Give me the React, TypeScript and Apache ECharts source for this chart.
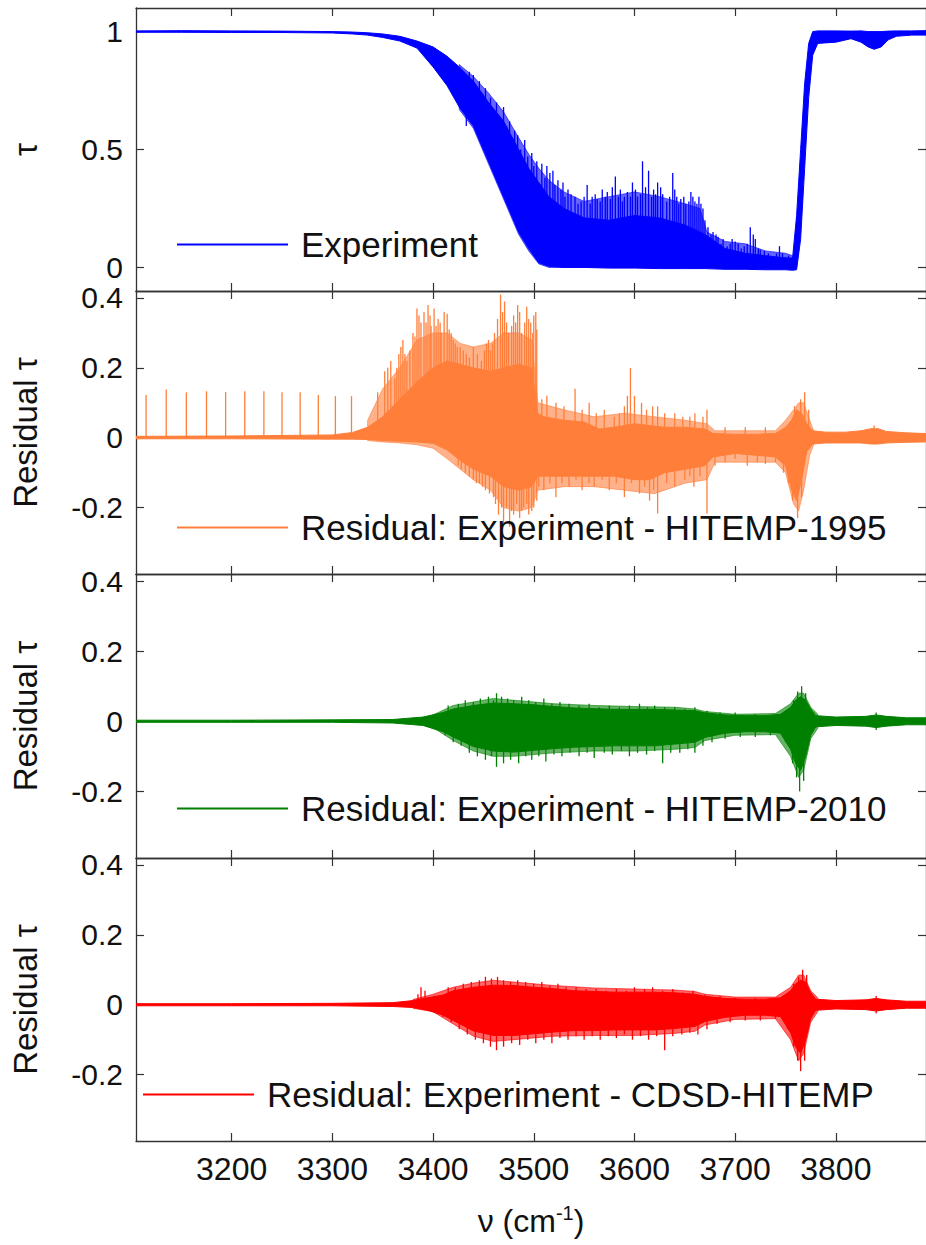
import React, { useEffect, useRef } from "react";
import * as echarts from "echarts";

// Wavenumber axis (cm-1)
const NU_MIN = 3105;
const NU_MAX = 3889.5;
const NU_TICKS = [3200, 3300, 3400, 3500, 3600, 3700, 3800];
const TAU_TICKS = [0, 0.5, 1];
const RES_TICKS = [-0.2, 0, 0.2, 0.4];

const SERIES_NAMES = [
  "Experiment",
  "Residual: Experiment - HITEMP-1995",
  "Residual: Experiment - HITEMP-2010",
  "Residual: Experiment - CDSD-HITEMP",
];
const SERIES_COLORS = ["#0000ff", "#ff7f3a", "#008000", "#ff0000"];

// Measured transmittance: solid band rows [nu, lower edge, upper edge]
const expBand = [
  [3105, 0.997, 1.003], [3150, 0.997, 1.004], [3200, 0.996, 1.003], [3250, 0.996, 1.002],
  [3300, 0.994, 1.0], [3320, 0.99, 0.998], [3335, 0.985, 0.995], [3350, 0.975, 0.99],
  [3367, 0.96, 0.98], [3384, 0.93, 0.96], [3400, 0.85, 0.935], [3414, 0.77, 0.895],
  [3426, 0.68, 0.85], [3440, 0.6, 0.79], [3455, 0.45, 0.7], [3470, 0.3, 0.62],
  [3485, 0.15, 0.5], [3495, 0.08, 0.42], [3505, 0.02, 0.36], [3515, 0.005, 0.3],
  [3530, 0.0, 0.25], [3550, 0.0, 0.21], [3575, -0.003, 0.2], [3600, -0.003, 0.22],
  [3625, -0.005, 0.21], [3650, -0.005, 0.18], [3670, -0.005, 0.14], [3690, -0.008, 0.08],
  [3710, -0.008, 0.06], [3730, -0.01, 0.05], [3750, -0.01, 0.04], [3757, -0.012, 0.04],
  [3761, -0.01, 0.22], [3765, 0.12, 0.5], [3769, 0.42, 0.78], [3773, 0.72, 0.95],
  [3777, 0.9, 1.0], [3782, 0.95, 1.003], [3800, 0.955, 1.003], [3815, 0.97, 1.002],
  [3825, 0.955, 1.003], [3832, 0.935, 1.0], [3838, 0.925, 1.0], [3845, 0.935, 1.0],
  [3852, 0.965, 1.002], [3860, 0.98, 1.003], [3875, 0.985, 1.003], [3889.5, 0.985, 1.004],
];
// Envelope of the densely packed line structure around the solid band
const expFringe = [
  [3426, 0.67, 0.86], [3440, 0.59, 0.81], [3455, 0.44, 0.74], [3470, 0.29, 0.66],
  [3485, 0.14, 0.55], [3495, 0.07, 0.48], [3505, 0.015, 0.42], [3515, 0.0, 0.37],
  [3530, 0.0, 0.32], [3550, 0.0, 0.28], [3575, 0.0, 0.3], [3600, 0.0, 0.32],
  [3625, 0.0, 0.3], [3650, 0.0, 0.27], [3665, 0.0, 0.25], [3672, 0.0, 0.15],
  [3690, 0.0, 0.11], [3710, 0.0, 0.1], [3730, 0.0, 0.07], [3750, 0.0, 0.06], [3757, 0.0, 0.05],
];
// Individual absorption-line peaks of the measurement: [nu, from, to]
const expSpikes = [
  [3433, 0.6, 0.8], [3436, 0.7, 0.83], [3440, 0.68, 0.816], [3443, 0.6, 0.77],
  [3446, 0.65, 0.79], [3449, 0.55, 0.74], [3452, 0.6, 0.76], [3457, 0.55, 0.72],
  [3460, 0.45, 0.66], [3463, 0.5, 0.7], [3466, 0.4, 0.64], [3470, 0.45, 0.68],
  [3473, 0.35, 0.6], [3476, 0.4, 0.62], [3479, 0.3, 0.55], [3481, 0.35, 0.58],
  [3484, 0.3, 0.56], [3487, 0.2, 0.5], [3491, 0.25, 0.54], [3494, 0.15, 0.47],
  [3498, 0.2, 0.485], [3500, 0.1, 0.43], [3503, 0.15, 0.45], [3508, 0.1, 0.44],
  [3511, 0.1, 0.38], [3513, 0.1, 0.43], [3516, 0.1, 0.4], [3519, 0.1, 0.41],
  [3521, 0.1, 0.35], [3524, 0.1, 0.37], [3527, 0.1, 0.33], [3529, 0.1, 0.36],
  [3531, 0.1, 0.3], [3534, 0.1, 0.33], [3537, 0.1, 0.31], [3541, 0.1, 0.3],
  [3544, 0.1, 0.27], [3547, 0.1, 0.28], [3550, 0.1, 0.3], [3553, 0.1, 0.35],
  [3556, 0.1, 0.27], [3558, 0.1, 0.3], [3561, 0.1, 0.31], [3563, 0.1, 0.29],
  [3566, 0.1, 0.28], [3568, 0.1, 0.33], [3571, 0.1, 0.3], [3573, 0.1, 0.32],
  [3576, 0.1, 0.29], [3578, 0.1, 0.34], [3581, 0.1, 0.385], [3584, 0.1, 0.3],
  [3586, 0.1, 0.33], [3588, 0.1, 0.28], [3590, 0.1, 0.3], [3593, 0.1, 0.32],
  [3596, 0.1, 0.3], [3598, 0.1, 0.36], [3601, 0.1, 0.33], [3603, 0.1, 0.3],
  [3606, 0.1, 0.31], [3608, 0.1, 0.45], [3611, 0.1, 0.34], [3614, 0.1, 0.41],
  [3617, 0.1, 0.3], [3619, 0.1, 0.33], [3621, 0.1, 0.31], [3623, 0.1, 0.36],
  [3626, 0.1, 0.34], [3628, 0.1, 0.31], [3632, 0.1, 0.28], [3635, 0.1, 0.3],
  [3638, 0.1, 0.4], [3640, 0.1, 0.33], [3642, 0.1, 0.3], [3644, 0.1, 0.27],
  [3646, 0.1, 0.29], [3649, 0.1, 0.3], [3651, 0.1, 0.27], [3654, 0.1, 0.28],
  [3656, 0.1, 0.32], [3658, 0.1, 0.3], [3660, 0.1, 0.28], [3662, 0.1, 0.27],
  [3664, 0.1, 0.3], [3666, 0.05, 0.27], [3668, 0.05, 0.25], [3670, 0.05, 0.2],
  [3673, 0.05, 0.17], [3676, 0.05, 0.14], [3678, 0.05, 0.15], [3681, 0.03, 0.14],
  [3683, 0.03, 0.13], [3686, 0.03, 0.1], [3688, 0.03, 0.12], [3692, 0.03, 0.09],
  [3695, 0.03, 0.1], [3697, 0.03, 0.12], [3700, 0.03, 0.11], [3703, 0.03, 0.1],
  [3706, 0.02, 0.08], [3709, 0.03, 0.09], [3712, 0.02, 0.1], [3715, 0.03, 0.17],
  [3718, 0.02, 0.14], [3720, 0.03, 0.12], [3723, 0.02, 0.08], [3725, 0.02, 0.075],
  [3729, 0.02, 0.07], [3733, 0.02, 0.06], [3738, 0.02, 0.045], [3741, 0.02, 0.06],
  [3744, 0.02, 0.09], [3747, 0.02, 0.06], [3750, 0.02, 0.045], [3753, 0.02, 0.05],
];

// Residual vs HITEMP-1995
const h95Band = [
  [3105, -0.003, 0.004], [3200, -0.003, 0.005], [3300, -0.004, 0.008], [3320, -0.004, 0.015],
  [3335, -0.005, 0.03], [3350, -0.008, 0.06], [3367, -0.01, 0.11], [3384, -0.012, 0.16],
  [3400, -0.016, 0.2], [3414, -0.035, 0.22], [3427, -0.065, 0.21], [3440, -0.09, 0.2],
  [3457, -0.11, 0.19], [3470, -0.14, 0.2], [3485, -0.15, 0.21], [3498, -0.14, 0.2],
  [3504, -0.11, 0.07], [3510, -0.11, 0.06], [3530, -0.11, 0.05], [3550, -0.11, 0.045],
  [3565, -0.11, 0.025], [3580, -0.11, 0.03], [3600, -0.12, 0.04], [3615, -0.12, 0.035],
  [3630, -0.1, 0.03], [3650, -0.09, 0.03], [3670, -0.08, 0.025], [3678, -0.055, 0.012],
  [3700, -0.045, 0.01], [3720, -0.05, 0.01], [3740, -0.055, 0.012], [3750, -0.08, 0.03],
  [3756, -0.15, 0.05], [3761, -0.18, 0.08], [3766, -0.12, 0.07], [3771, -0.04, 0.04],
  [3777, -0.018, 0.02], [3790, -0.015, 0.016], [3810, -0.015, 0.016], [3825, -0.015, 0.02],
  [3835, -0.018, 0.026], [3842, -0.018, 0.026], [3850, -0.015, 0.018], [3870, -0.013, 0.014],
  [3889.5, -0.012, 0.012],
];
const h95Fringe = [
  [3335, -0.008, 0.05], [3350, -0.012, 0.14], [3367, -0.015, 0.2], [3384, -0.02, 0.28],
  [3400, -0.03, 0.3], [3414, -0.06, 0.3], [3427, -0.09, 0.27], [3440, -0.12, 0.26],
  [3457, -0.15, 0.27], [3470, -0.2, 0.3], [3485, -0.21, 0.3], [3498, -0.2, 0.28],
  [3504, -0.15, 0.1], [3530, -0.14, 0.08], [3560, -0.14, 0.06], [3590, -0.15, 0.07],
  [3620, -0.16, 0.06], [3650, -0.13, 0.05], [3672, -0.12, 0.04], [3680, -0.07, 0.02],
  [3740, -0.07, 0.02], [3750, -0.1, 0.05], [3758, -0.19, 0.08], [3763, -0.21, 0.1],
  [3768, -0.15, 0.1], [3774, -0.05, 0.05], [3778, -0.02, 0.02],
];
// Residual line peaks: [nu, tip]
const h95Spikes = [
  [3115, 0.122], [3135, 0.138], [3155, 0.13], [3175, 0.133], [3194, 0.131], [3213, 0.133],
  [3232, 0.133], [3250, 0.13], [3268, 0.13], [3286, 0.122], [3303, 0.119], [3319, 0.119],
  [3345, 0.13], [3352, 0.19], [3355, 0.2], [3358, 0.22], [3362, 0.17], [3364, 0.2],
  [3366, 0.24], [3368, 0.26], [3370, 0.28], [3372, 0.24], [3374, 0.22], [3377, 0.25],
  [3380, 0.3], [3382, 0.29], [3384, 0.37], [3386, 0.35], [3388, 0.33], [3391, 0.36],
  [3393, 0.33], [3395, 0.38], [3397, 0.35], [3398, 0.32], [3401, 0.37], [3403, 0.32],
  [3405, 0.34], [3407, 0.33], [3408, 0.3], [3411, 0.36], [3414, 0.355], [3416, 0.31],
  [3418, 0.3], [3420, 0.28], [3422, 0.27], [3424, 0.26], [3427, 0.26], [3430, 0.25],
  [3433, 0.24], [3436, 0.23], [3440, 0.26], [3444, 0.24], [3448, 0.22], [3451, 0.25],
  [3453, 0.27], [3455, 0.28], [3457, 0.25], [3459, 0.27], [3461, 0.3], [3464, 0.34],
  [3467, 0.41], [3469, 0.36], [3471, 0.39], [3473, 0.33], [3475, 0.3], [3478, 0.32],
  [3480, 0.35], [3482, 0.33], [3484, 0.38], [3486, 0.36], [3488, 0.3], [3491, 0.33],
  [3493, 0.375], [3495, 0.34], [3497, 0.33], [3499, 0.3], [3500, 0.35], [3502, 0.36],
  [3503, 0.31], [3508, 0.11], [3513, 0.12], [3522, 0.1], [3530, 0.09], [3541, 0.14],
  [3548, 0.08], [3555, 0.1], [3562, 0.07], [3570, 0.08], [3580, 0.06], [3585, 0.07],
  [3590, 0.09], [3593, 0.12], [3596, 0.2], [3600, 0.12], [3607, 0.1], [3612, 0.08],
  [3618, 0.09], [3623, 0.09], [3630, 0.07], [3640, 0.07], [3648, 0.06], [3655, 0.06],
  [3660, 0.07], [3668, 0.06], [3672, 0.08], [3690, 0.03], [3710, 0.03], [3730, 0.03],
  [3759, 0.09], [3765, 0.11], [3769, 0.13], [3773, 0.08], [3838, 0.035],
  [3425, -0.08], [3428, -0.09], [3432, -0.1], [3436, -0.11], [3440, -0.12], [3443, -0.13],
  [3446, -0.13], [3449, -0.14], [3452, -0.15], [3456, -0.16], [3460, -0.17], [3462, -0.19],
  [3465, -0.22], [3468, -0.2], [3470, -0.25], [3473, -0.2], [3476, -0.255], [3478, -0.21],
  [3480, -0.22], [3483, -0.19], [3486, -0.23], [3488, -0.21], [3490, -0.2], [3493, -0.19],
  [3495, -0.22], [3498, -0.21], [3500, -0.2], [3503, -0.18], [3505, -0.14], [3510, -0.15],
  [3516, -0.13], [3522, -0.17], [3528, -0.13], [3535, -0.14], [3542, -0.12], [3548, -0.15],
  [3555, -0.13], [3560, -0.14], [3568, -0.12], [3575, -0.15], [3582, -0.13], [3590, -0.17],
  [3597, -0.13], [3605, -0.16], [3610, -0.14], [3615, -0.18], [3619, -0.15], [3623, -0.217],
  [3632, -0.13], [3640, -0.14], [3650, -0.12], [3655, -0.11], [3659, -0.14], [3665, -0.11],
  [3672, -0.217], [3680, -0.08], [3690, -0.07], [3700, -0.06], [3712, -0.08], [3722, -0.07],
  [3730, -0.075], [3740, -0.07], [3748, -0.1], [3753, -0.13], [3757, -0.18], [3762, -0.23],
  [3766, -0.17],
];

// Residual vs HITEMP-2010
const h10Band = [
  [3105, -0.003, 0.003], [3200, -0.003, 0.003], [3300, -0.003, 0.004], [3360, -0.005, 0.005],
  [3390, -0.012, 0.012], [3410, -0.03, 0.025], [3420, -0.045, 0.035], [3440, -0.072, 0.045],
  [3460, -0.085, 0.052], [3480, -0.088, 0.05], [3500, -0.083, 0.047], [3520, -0.078, 0.042],
  [3540, -0.074, 0.038], [3560, -0.072, 0.036], [3580, -0.07, 0.034], [3600, -0.07, 0.034],
  [3620, -0.07, 0.034], [3640, -0.065, 0.032], [3660, -0.06, 0.03], [3670, -0.046, 0.024],
  [3690, -0.034, 0.018], [3710, -0.03, 0.016], [3730, -0.03, 0.016], [3745, -0.034, 0.02],
  [3755, -0.08, 0.04], [3760, -0.12, 0.06], [3765, -0.14, 0.07], [3770, -0.1, 0.06],
  [3775, -0.04, 0.035], [3780, -0.016, 0.016], [3800, -0.012, 0.012], [3830, -0.014, 0.014],
  [3840, -0.018, 0.018], [3850, -0.014, 0.014], [3870, -0.01, 0.01], [3889.5, -0.01, 0.01],
];
const h10Fringe = [
  [3400, -0.018, 0.018], [3420, -0.055, 0.045], [3440, -0.085, 0.055], [3460, -0.1, 0.065],
  [3480, -0.1, 0.06], [3500, -0.095, 0.055], [3520, -0.09, 0.05], [3560, -0.085, 0.045],
  [3600, -0.085, 0.042], [3640, -0.08, 0.04], [3660, -0.075, 0.035], [3670, -0.055, 0.028],
  [3700, -0.04, 0.02], [3740, -0.038, 0.022], [3755, -0.1, 0.05], [3763, -0.16, 0.08],
  [3768, -0.14, 0.08], [3775, -0.05, 0.04], [3782, -0.02, 0.02],
];
const h10Spikes = [
  [3415, 0.045], [3425, 0.05], [3432, 0.06], [3440, 0.055], [3447, 0.065], [3455, 0.07],
  [3460, 0.06], [3463, 0.08], [3468, 0.07], [3474, 0.065], [3480, 0.06], [3488, 0.07],
  [3495, 0.06], [3502, 0.055], [3510, 0.065], [3518, 0.05], [3526, 0.055], [3535, 0.05],
  [3545, 0.045], [3555, 0.05], [3565, 0.04], [3575, 0.045], [3585, 0.04], [3595, 0.045],
  [3605, 0.05], [3613, 0.04], [3620, 0.045], [3630, 0.04], [3640, 0.04], [3650, 0.035],
  [3660, 0.04], [3672, 0.03], [3685, 0.025], [3700, 0.025], [3720, 0.02], [3740, 0.02],
  [3758, 0.06], [3762, 0.085], [3766, 0.1], [3770, 0.08], [3840, 0.025],
  [3412, -0.04], [3420, -0.06], [3428, -0.07], [3436, -0.09], [3444, -0.1], [3452, -0.11],
  [3458, -0.1], [3463, -0.13], [3470, -0.12], [3477, -0.11], [3485, -0.12], [3492, -0.1],
  [3498, -0.11], [3505, -0.1], [3512, -0.115], [3520, -0.095], [3528, -0.1], [3536, -0.09],
  [3545, -0.1], [3553, -0.09], [3560, -0.105], [3570, -0.09], [3578, -0.095], [3587, -0.085],
  [3595, -0.1], [3603, -0.09], [3612, -0.095], [3620, -0.085], [3628, -0.12], [3636, -0.09],
  [3645, -0.09], [3653, -0.08], [3660, -0.09], [3668, -0.07], [3677, -0.06], [3690, -0.05],
  [3705, -0.045], [3720, -0.045], [3735, -0.04], [3750, -0.06], [3757, -0.12], [3761, -0.16],
  [3764, -0.2], [3768, -0.17], [3840, -0.025],
];

// Residual vs CDSD-HITEMP
const cdsdBand = [
  [3105, -0.003, 0.003], [3200, -0.003, 0.003], [3300, -0.003, 0.004], [3360, -0.005, 0.006],
  [3380, -0.008, 0.012], [3395, -0.016, 0.02], [3410, -0.03, 0.028], [3420, -0.045, 0.04],
  [3440, -0.075, 0.05], [3460, -0.088, 0.056], [3480, -0.088, 0.055], [3500, -0.083, 0.05],
  [3520, -0.078, 0.046], [3540, -0.074, 0.04], [3560, -0.074, 0.038], [3580, -0.072, 0.036],
  [3600, -0.072, 0.036], [3620, -0.072, 0.036], [3640, -0.068, 0.034], [3660, -0.062, 0.03],
  [3670, -0.048, 0.024], [3690, -0.036, 0.018], [3710, -0.03, 0.016], [3730, -0.03, 0.016],
  [3745, -0.034, 0.02], [3755, -0.08, 0.04], [3760, -0.12, 0.06], [3765, -0.14, 0.07],
  [3770, -0.1, 0.065], [3775, -0.04, 0.035], [3780, -0.016, 0.016], [3800, -0.012, 0.012],
  [3830, -0.014, 0.014], [3840, -0.018, 0.018], [3850, -0.014, 0.014], [3870, -0.01, 0.01],
  [3889.5, -0.01, 0.01],
];
const cdsdFringe = [
  [3380, -0.01, 0.015], [3400, -0.02, 0.03], [3420, -0.055, 0.05], [3440, -0.09, 0.062],
  [3460, -0.105, 0.07], [3480, -0.1, 0.065], [3500, -0.095, 0.06], [3520, -0.09, 0.055],
  [3560, -0.088, 0.048], [3600, -0.088, 0.045], [3640, -0.082, 0.042], [3660, -0.076, 0.038],
  [3670, -0.058, 0.03], [3700, -0.042, 0.022], [3740, -0.04, 0.022], [3755, -0.1, 0.05],
  [3763, -0.16, 0.085], [3768, -0.14, 0.085], [3775, -0.05, 0.04], [3782, -0.02, 0.02],
];
const cdsdSpikes = [
  [3385, 0.03], [3388, 0.05], [3392, 0.04], [3415, 0.05], [3422, 0.05], [3430, 0.06],
  [3438, 0.065], [3446, 0.07], [3452, 0.08], [3458, 0.075], [3464, 0.08], [3470, 0.07],
  [3477, 0.065], [3484, 0.07], [3492, 0.065], [3500, 0.06], [3508, 0.065], [3516, 0.055],
  [3524, 0.06], [3532, 0.05], [3542, 0.05], [3552, 0.045], [3562, 0.045], [3572, 0.04],
  [3582, 0.045], [3592, 0.04], [3600, 0.05], [3610, 0.045], [3618, 0.05], [3628, 0.04],
  [3638, 0.045], [3648, 0.035], [3658, 0.04], [3670, 0.03], [3685, 0.025], [3700, 0.02],
  [3720, 0.02], [3740, 0.02], [3758, 0.06], [3763, 0.08], [3767, 0.1], [3771, 0.085],
  [3840, 0.025],
  [3410, -0.035], [3418, -0.05], [3426, -0.07], [3434, -0.085], [3442, -0.1], [3450, -0.11],
  [3457, -0.12], [3463, -0.13], [3470, -0.12], [3478, -0.11], [3486, -0.115], [3494, -0.1],
  [3502, -0.11], [3510, -0.1], [3518, -0.11], [3526, -0.095], [3534, -0.1], [3542, -0.09],
  [3550, -0.1], [3558, -0.09], [3566, -0.1], [3574, -0.09], [3582, -0.095], [3590, -0.085],
  [3598, -0.1], [3606, -0.09], [3614, -0.1], [3622, -0.09], [3630, -0.13], [3638, -0.09],
  [3647, -0.085], [3655, -0.08], [3663, -0.085], [3672, -0.07], [3682, -0.055], [3695, -0.05],
  [3710, -0.045], [3725, -0.045], [3740, -0.04], [3752, -0.07], [3758, -0.12], [3762, -0.16],
  [3765, -0.19], [3769, -0.16], [3840, -0.025],
];

const FONT = "'Liberation Sans', Arial, Helvetica, sans-serif";
const AXIS_COLOR = "#333333";

type Panel = {
  band: number[][];
  fringe: number[][];
  spikes: number[][];
  spikeHasBase: boolean;
  yMin: number;
  yMax: number;
  yTicks: number[];
  yName: string;
  top: number;
  height: number;
  legendLeft: number;
  legendTop: number;
};

const PANELS: Panel[] = [
  { band: expBand, fringe: expFringe, spikes: expSpikes, spikeHasBase: true, yMin: -0.1, yMax: 1.1, yTicks: TAU_TICKS, yName: "τ", top: 8, height: 283, legendLeft: 177, legendTop: 227 },
  { band: h95Band, fringe: h95Fringe, spikes: h95Spikes, spikeHasBase: false, yMin: -0.39, yMax: 0.42, yTicks: RES_TICKS, yName: "Residual τ", top: 291, height: 283, legendLeft: 177, legendTop: 510 },
  { band: h10Band, fringe: h10Fringe, spikes: h10Spikes, spikeHasBase: false, yMin: -0.39, yMax: 0.42, yTicks: RES_TICKS, yName: "Residual τ", top: 574, height: 284, legendLeft: 177, legendTop: 791 },
  { band: cdsdBand, fringe: cdsdFringe, spikes: cdsdSpikes, spikeHasBase: false, yMin: -0.39, yMax: 0.42, yTicks: RES_TICKS, yName: "Residual τ", top: 858, height: 283, legendLeft: 143, legendTop: 1077 },
];

// A whole band (rows [nu, lo, hi]) drawn as one filled polygon through the axis scales
function bandSeries(name: string, rows: number[][], axisIndex: number, color: string, opacity: number) {
  return {
    type: "custom",
    name,
    xAxisIndex: axisIndex,
    yAxisIndex: axisIndex,
    data: rows,
    clip: true,
    silent: true,
    color,
    itemStyle: { color },
    encode: { x: 0, y: [1, 2] },
    renderItem: (params: any, api: any) => {
      if (params.dataIndexInside !== 0) return null;
      const n = params.dataInsideLength;
      const upper: number[][] = [];
      const lower: number[][] = [];
      for (let j = 0; j < n; j++) {
        const nu = api.value(0, j);
        upper.push(api.coord([nu, api.value(2, j)]));
        lower.push(api.coord([nu, api.value(1, j)]));
      }
      return {
        type: "polygon",
        shape: { points: upper.concat(lower.reverse()) },
        style: { fill: color, stroke: color, lineWidth: 1, opacity },
      };
    },
  };
}

function buildOption() {
  const grid: any[] = [];
  const xAxis: any[] = [];
  const yAxis: any[] = [];
  const series: any[] = [];
  const legend: any[] = [];
  const axisLine = { show: true, onZero: false, lineStyle: { color: AXIS_COLOR, width: 1.3 } };

  PANELS.forEach((p, i) => {
    const color = SERIES_COLORS[i];
    const name = SERIES_NAMES[i];
    const last = i === PANELS.length - 1;
    grid.push({ left: 136, width: 790, top: p.top, height: p.height, containLabel: false });

    const xBase = {
      type: "value",
      gridIndex: i,
      min: NU_MIN,
      max: NU_MAX,
      axisLine,
      splitLine: { show: false },
      axisTick: { show: true, inside: true, length: 8, customValues: NU_TICKS, lineStyle: { color: AXIS_COLOR, width: 1.2 } },
    };
    xAxis.push({
      ...xBase,
      position: "bottom",
      axisLabel: {
        show: last,
        customValues: NU_TICKS,
        formatter: (v: number) => String(v),
        fontSize: 32,
        fontFamily: FONT,
        color: "#111",
        margin: 12,
      },
      name: last ? "ν (cm{sup|-1})" : "",
      nameLocation: "middle",
      nameGap: 62,
      nameTextStyle: {
        fontSize: 32,
        fontFamily: FONT,
        color: "#111",
        rich: { sup: { fontSize: 20, fontFamily: FONT, color: "#111", verticalAlign: "top", padding: [0, 0, 16, 0] } },
      },
    });
    xAxis.push({ ...xBase, position: "top", axisLabel: { show: false } });

    const yBase = {
      type: "value",
      gridIndex: i,
      min: p.yMin,
      max: p.yMax,
      axisLine,
      splitLine: { show: false },
      axisTick: { show: true, inside: true, length: 8, customValues: p.yTicks, lineStyle: { color: AXIS_COLOR, width: 1.2 } },
    };
    yAxis.push({
      ...yBase,
      position: "left",
      axisLabel: { customValues: p.yTicks, fontSize: 30, fontFamily: FONT, color: "#111", margin: 13 },
      name: p.yName,
      nameLocation: "middle",
      nameRotate: 90,
      nameGap: 94,
      nameTextStyle: { fontSize: 33, fontFamily: FONT, color: "#111" },
    });
    yAxis.push({ ...yBase, position: "right", axisLabel: { show: false } });

    series.push(bandSeries(name + " dense lines", p.fringe, 2 * i, color, 0.6));
    series.push(bandSeries(name, p.band, 2 * i, color, 1));
    series.push({
      type: "custom",
      name: name + " peaks",
      xAxisIndex: 2 * i,
      yAxisIndex: 2 * i,
      data: p.spikes,
      clip: true,
      silent: true,
      encode: p.spikeHasBase ? { x: 0, y: [1, 2] } : { x: 0, y: 1 },
      renderItem: (_params: any, api: any) => {
        const nu = api.value(0);
        const from = p.spikeHasBase ? api.value(1) : 0;
        const to = p.spikeHasBase ? api.value(2) : api.value(1);
        const a = api.coord([nu, from]);
        const b = api.coord([nu, to]);
        return {
          type: "line",
          shape: { x1: a[0], y1: a[1], x2: b[0], y2: b[1] },
          style: { stroke: color, lineWidth: 1.3 },
        };
      },
    });

    legend.push({
      data: [name],
      left: p.legendLeft,
      top: p.legendTop,
      padding: 0,
      icon: "rect",
      itemWidth: 111,
      itemHeight: 2,
      selectedMode: false,
      itemStyle: { color },
      textStyle: { fontSize: 35, fontFamily: FONT, color: "#111", padding: [0, 0, 0, 8] },
    });
  });

  return {
    animation: false,
    backgroundColor: "#ffffff",
    grid,
    xAxis,
    yAxis,
    series,
    legend,
  };
}

export default function App() {
  const ref = useRef<HTMLDivElement>(null);
  useEffect(() => {
    if (!ref.current) return;
    const chart = echarts.init(ref.current, undefined, { renderer: "svg" });
    chart.setOption(buildOption() as any);
    return () => chart.dispose();
  }, []);
  return (
    <div
      ref={ref}
      style={{ position: "fixed", left: 0, top: 0, width: 926, height: 1245, background: "#ffffff" }}
    />
  );
}
